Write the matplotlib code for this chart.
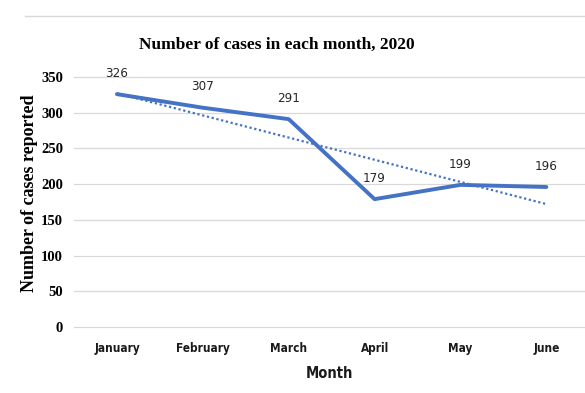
import matplotlib
matplotlib.use("Agg")
import matplotlib.pyplot as plt
import numpy as np
from matplotlib.lines import Line2D

months = ["January", "February", "March", "April", "May", "June"]
cases = [326, 307, 291, 179, 199, 196]
yticks = [0, 50, 100, 150, 200, 250, 300, 350]

W, H = 585, 393
fig = plt.figure(figsize=(W / 100, H / 100), dpi=100)
ax = fig.add_axes([74 / W, 1 - 327 / H, (585 - 74) / W, (327 - 77) / H])

x = np.arange(len(months))
blue = "#4472C4"
ax.plot(x, cases, color=blue, lw=2.8, solid_capstyle="round", zorder=3)
coef = np.polyfit(x, cases, 1)
ax.plot(x, np.polyval(coef, x), color=blue, lw=1.6, ls=(0, (1, 1.2)), zorder=2)

for xi, v in zip(x, cases):
    ax.annotate(str(v), (xi, v), xytext=(0, 15), textcoords="offset points",
                ha="center", va="center", fontsize=9.5, family="DejaVu Sans",
                fontstretch="condensed", color="#262626")

ax.set_xlim(-0.5, 5.45)
ax.set_ylim(0, 350)
ax.set_yticks(yticks)
ax.set_xticks(x)
ax.set_xticklabels(months, fontsize=8.5, fontweight="bold", family="DejaVu Sans",
                   fontstretch="condensed", color="#1a1a1a")
for lab in ax.get_yticklabels():
    lab.set_family("Liberation Serif")
    lab.set_fontweight("bold")
    lab.set_fontsize(10.5)
ax.tick_params(axis="both", length=0)
ax.tick_params(axis="y", pad=8)
ax.tick_params(axis="x", pad=11)
for s in ax.spines.values():
    s.set_visible(False)
ax.grid(axis="y", color="#d9d9d9", lw=0.9)
for gl in ax.get_ygridlines():
    gl.set_clip_on(False)
ax.set_axisbelow(True)

ax.set_xlabel("Month", fontsize=10.5, fontweight="bold", family="DejaVu Sans",
              fontstretch="condensed", color="#1a1a1a", labelpad=8)
fig.text(30 / W, 1 - 193 / H, "Number of cases reported", rotation=90,
         ha="center", va="center", fontsize=13, fontweight="bold",
         family="Liberation Serif")
fig.text(277 / W, 1 - 45 / H, "Number of cases in each month, 2020",
         ha="center", va="center", fontsize=12.5, fontweight="bold",
         family="Liberation Serif")
fig.add_artist(Line2D([25 / W, 1], [1 - 16 / H, 1 - 16 / H], color="#d9d9d9", lw=1,
                      transform=fig.transFigure))

fig.savefig("out.png", dpi=100)
